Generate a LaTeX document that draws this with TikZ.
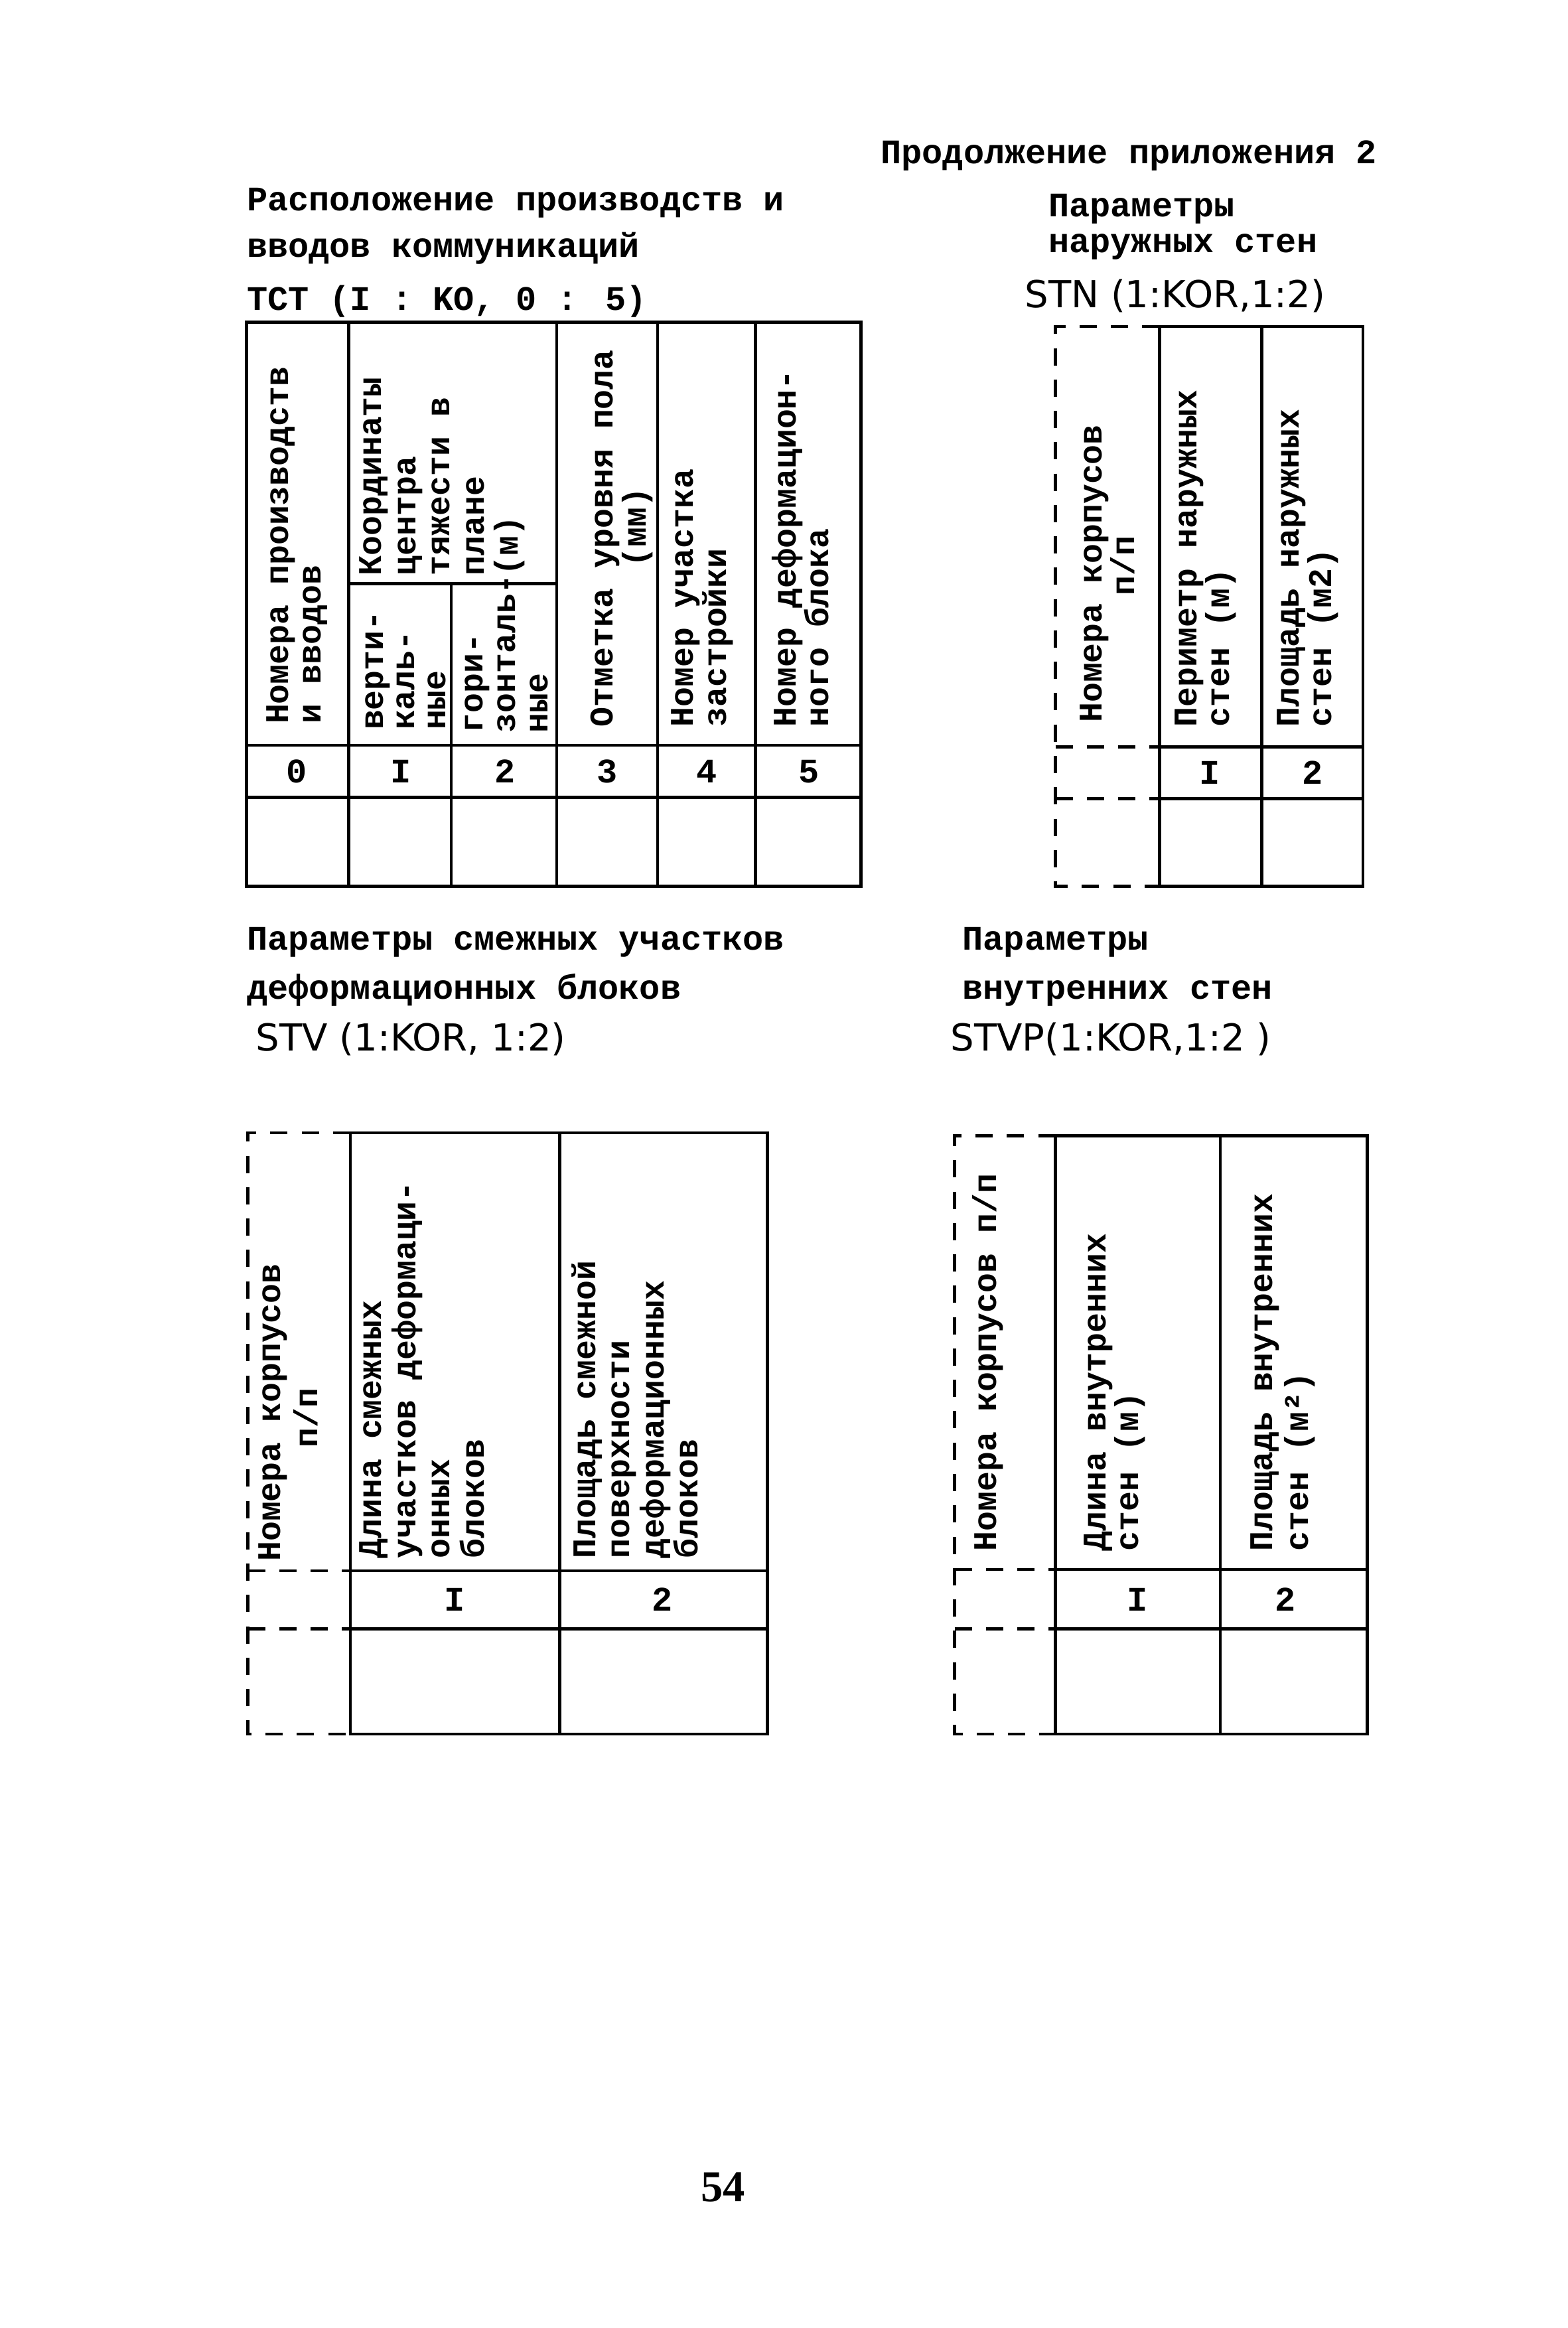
\documentclass[tikz,border=0pt]{standalone}
\usepackage{fontspec}
\setmainfont{Liberation Mono}
\newfontfamily\handfont{DejaVu Sans}
\newfontfamily\numfont{Liberation Serif}
\begin{document}
\begin{tikzpicture}[x=0.018939cm,y=-0.018939cm,
  tw/.style={font=\fontsize{12.5}{12}\selectfont\bfseries,inner sep=0pt,anchor=base west},
  vt/.style={font=\fontsize{12}{12}\selectfont\bfseries,inner sep=0pt,anchor=base west,rotate=90},
  vc/.style={font=\fontsize{12}{12}\selectfont\bfseries,inner sep=0pt,anchor=base,rotate=90},
  num/.style={font=\fontsize{12.5}{12}\selectfont\bfseries,inner sep=0pt,anchor=base},
  hw/.style={font=\handfont\fontsize{13.5}{14}\selectfont,inner sep=0pt,anchor=base west},
  tl/.style={line width=1.1pt},
  dl/.style={line width=1.1pt,dash pattern=on 0.22cm off 0.18cm}]
\fill[white] (0,0) rectangle (1056,1568);
\useasboundingbox (0,0) rectangle (1056,1568);

% headings
\node[tw] (h0) at (593,110) {Продолжение приложения 2};
\node[tw] (t1a) at (166,142) {Расположение производств и};
\node[tw] (t1b) at (166,173) {вводов коммуникаций};
\node[tw] (t1c) at (166,209) {TCT (I : KO, 0 : 5)};
\node[tw] (t2a) at (706,146) {Параметры};
\node[tw] (t2b) at (706,170) {наружных стен};
\node[hw] (t2c) at (690,207) {STN (1:KOR,1:2)};
\node[tw] (t3a) at (166,640) {Параметры смежных участков};
\node[tw] (t3b) at (166,673) {деформационных блоков};
\node[hw] (t3c) at (172,708) {STV (1:KOR, 1:2)};
\node[tw] (t4a) at (648,640) {Параметры};
\node[tw] (t4b) at (648,673) {внутренних стен};
\node[hw] (t4c) at (640,708) {STVP(1:KOR,1:2 )};
\node[font=\numfont\bfseries\fontsize{16}{18}\selectfont,inner sep=0pt] (pg) at (487,1473) {54};

% ---------- table 1 ----------
\draw[tl] (166,217) rectangle (580,597);
\foreach \x in {235,375,443,509} \draw[tl] (\x,217) -- (\x,597);
\draw[tl] (304,393) -- (304,597);
\draw[tl] (235,393) -- (375,393);
\draw[tl] (166,502) -- (580,502);
\draw[tl] (166,537) -- (580,537);

\node[vt] (a0a) at (194,488) {Номера производств};
\node[vt] (a0b) at (216,488) {и вводов};
\node[vt] (akA) at (257,388) {Координаты};
\node[vt] (akB) at (280,388) {центра};
\node[vt] (akC) at (303,388) {тяжести в};
\node[vt] (akD) at (326,388) {плане};
\node[vt] (akE) at (349,388) {(м)};
\node[vt] (a1a) at (258,492) {верти-};
\node[vt] (a1b) at (279,492) {каль-};
\node[vt] (a1c) at (300,492) {ные};
\node[vt] (a2a) at (325,494) {гори-};
\node[vt] (a2b) at (347,494) {зонталь-};
\node[vt] (a2c) at (369,494) {ные};
\node[vt] (a3a) at (413,490) {Отметка уровня пола};
\node[vc] (a3b) at (435,355) {(мм)};
\node[vt] (a4a) at (467,490) {Номер участка};
\node[vt] (a4b) at (489,490) {застройки};
\node[vt] (a5a) at (536,490) {Номер деформацион-};
\node[vt] (a5b) at (558,490) {ного блока};

\node[num] (n10) at (200,527) {0};
\node[num] (n11) at (270,527) {I};
\node[num] (n12) at (340,527) {2};
\node[num] (n13) at (409,527) {3};
\node[num] (n14) at (476,527) {4};
\node[num] (n15) at (545,527) {5};

% ---------- table 2 ----------
\draw[tl] (781,220) rectangle (918,597);
\draw[tl] (850,220) -- (850,597);
\draw[tl] (781,503) -- (918,503);
\draw[tl] (781,538) -- (918,538);
\draw[dl] (781,220) -- (711,220) -- (711,597) -- (781,597);
\draw[dl] (711,503) -- (781,503);
\draw[dl] (711,538) -- (781,538);

\node[vt] (b0a) at (742,487) {Номера корпусов};
\node[vc] (b0b) at (764,381) {п/п};
\node[vt] (b1a) at (806,490) {Периметр наружных};
\node[vt] (b1b) at (828,490) {стен (м)};
\node[vt] (b2a) at (875,490) {Площадь наружных};
\node[vt] (b2b) at (897,490) {стен (м2)};
\node[num] (n21) at (815,528) {I};
\node[num] (n22) at (884,528) {2};

% ---------- table 3 ----------
\draw[tl] (236,763) rectangle (517,1168);
\draw[tl] (377,763) -- (377,1168);
\draw[tl] (236,1058) -- (517,1058);
\draw[tl] (236,1097) -- (517,1097);
\draw[dl] (236,763) -- (167,763) -- (167,1168) -- (236,1168);
\draw[dl] (167,1058) -- (236,1058);
\draw[dl] (167,1097) -- (236,1097);

\node[vt] (c0a) at (189,1052) {Номера корпусов};
\node[vc] (c0b) at (214,955) {п/п};
\node[vt] (c1a) at (257,1050) {Длина смежных};
\node[vt] (c1b) at (280,1050) {участков деформаци-};
\node[vt] (c1c) at (303,1050) {онных};
\node[vt] (c1d) at (326,1050) {блоков};
\node[vt] (c2a) at (401,1050) {Площадь смежной};
\node[vt] (c2b) at (424,1050) {поверхности};
\node[vt] (c2c) at (447,1050) {деформационных};
\node[vt] (c2d) at (470,1050) {блоков};
\node[num] (n31) at (306,1085) {I};
\node[num] (n32) at (446,1085) {2};

% ---------- table 4 ----------
\draw[tl] (711,765) rectangle (921,1168);
\draw[tl] (822,765) -- (822,1168);
\draw[tl] (711,1057) -- (921,1057);
\draw[tl] (711,1097) -- (921,1097);
\draw[dl] (711,765) -- (643,765) -- (643,1168) -- (711,1168);
\draw[dl] (643,1057) -- (711,1057);
\draw[dl] (643,1097) -- (711,1097);

\node[vt] (d0a) at (671,1045) {Номера корпусов п/п};
\node[vt] (d1a) at (745,1045) {Длина внутренних};
\node[vt] (d1b) at (767,1045) {стен (м)};
\node[vt] (d2a) at (857,1045) {Площадь внутренних};
\node[vt] (d2b) at (881,1045) {стен (м²)};
\node[num] (n41) at (766,1085) {I};
\node[num] (n42) at (866,1085) {2};
\end{tikzpicture}
\end{document}
